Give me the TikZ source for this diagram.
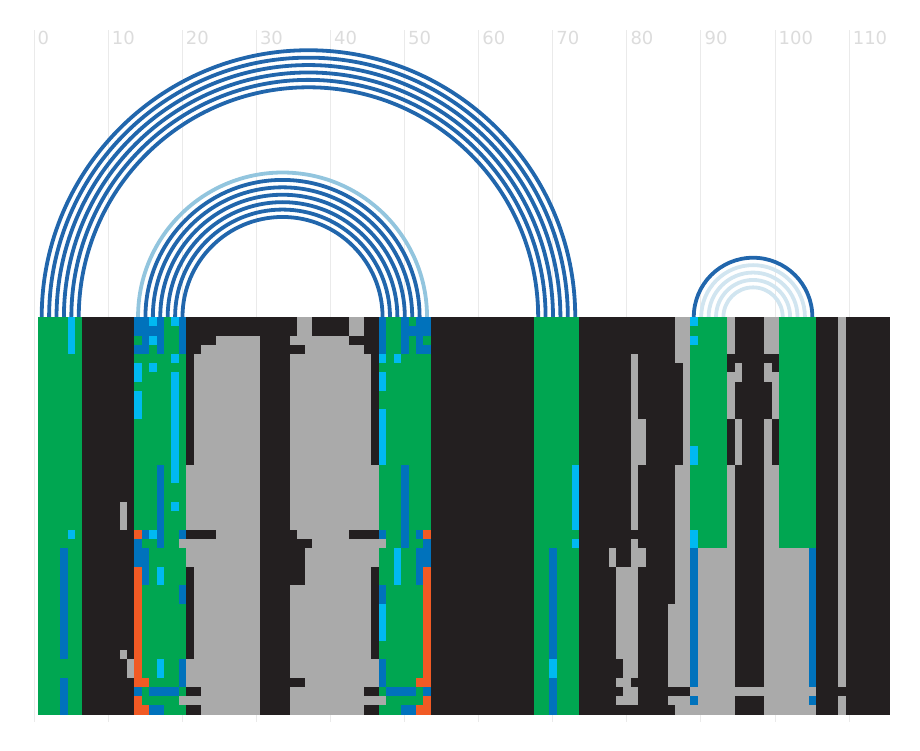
\documentclass[tikz,border=0pt]{standalone}
\usepackage{fontspec}
\setmainfont{DejaVu Sans}
\definecolor{stemgreen}{HTML}{00A651}
\definecolor{ntdark}{HTML}{231F20}
\definecolor{gapgray}{HTML}{AAAAAA}
\definecolor{varlight}{HTML}{00B9F1}
\definecolor{varblue}{HTML}{0072BC}
\definecolor{varorange}{HTML}{F15A24}
\definecolor{arcdark}{HTML}{2166AC}
\definecolor{arcmid}{HTML}{92C5DE}
\definecolor{arcpale}{HTML}{D1E5F0}
\definecolor{axisgray}{HTML}{DCDCDC}
\definecolor{rulegray}{HTML}{EAEAEA}
\newcommand\colw{7.41}
\newcommand\rowh{9.248}
\newcommand\gridx{38}
\newcommand\gridy{317}
\tikzset {
cG/.style={fill=stemgreen},
cK/.style={fill=ntdark},
cA/.style={fill=gapgray},
cL/.style={fill=varlight},
cB/.style={fill=varblue},
cO/.style={fill=varorange},
gridrule/.style={draw=rulegray,line width=1pt},
axislabel/.style={text=axisgray,font=\fontsize{18}{18}\selectfont,anchor=base west,inner sep=0pt},
basepair/.style={draw=arcdark,line width=3.8pt},
basepairmid/.style={draw=arcmid,line width=3.8pt},
basepairpale/.style={draw=arcpale,line width=3.8pt}
}
\begin{document}
\begin{tikzpicture}
[x=1pt,y=-1pt]
\useasboundingbox (0,0) rectangle (920,750);
\foreach \k in {0,...,11} {
  \pgfmathtruncatemacro\lab{10*\k}
  \coordinate (rtop\k) at ({34+74.1*\k},30);
  \coordinate (rbot\k) at ({34+74.1*\k},722);
  \draw[gridrule] (rtop\k) -- (rbot\k);
  \node[axislabel] (lab\k) at ({37.5+74.1*\k},44) {\lab};
}
\foreach \c in {0,...,114}
  \coordinate (col\c) at ({\gridx+(\c+0.5)*\colw},\gridy);

\foreach \a/\b/\s in {0/72/basepair,1/71/basepair,2/70/basepair,3/69/basepair,4/68/basepair,5/67/basepair,
  13/52/basepairmid,14/51/basepair,15/50/basepair,16/49/basepair,17/48/basepair,18/47/basepair,19/46/basepair,
  88/104/basepair,89/103/basepairpale,90/102/basepairpale,91/101/basepairpale,92/100/basepairpale}
  \draw[\s] (col\a) arc[start angle=180,end angle=360,radius={(\b-\a)*\colw/2}];

\foreach \ca/\cb/\ra/\rb/\st in {
  0/5/0/42/cG,6/12/0/42/cK,13/19/0/42/cG,20/45/0/42/cA,46/52/0/42/cG,53/66/0/42/cK,
  67/72/0/42/cG,73/87/0/42/cK,88/92/0/24/cG,88/92/25/42/cA,93/93/0/42/cA,94/97/0/42/cK,
  98/99/0/42/cA,100/104/0/24/cG,100/104/25/42/cA,105/107/0/42/cK,108/108/0/42/cA,109/114/0/42/cK,
  4/4/0/3/cL,4/4/23/23/cL,3/3/25/36/cB,3/3/39/42/cB,11/11/20/22/cA,11/11/36/36/cA,12/12/37/38/cA,
  13/14/0/1/cB,15/15/0/0/cL,16/16/0/3/cB,18/18/0/0/cL,19/19/0/3/cB,15/15/1/1/cB,14/14/2/2/cB,
  15/15/2/2/cL,13/14/3/3/cB,18/18/4/4/cL,13/13/5/6/cL,15/15/5/5/cL,18/18/6/17/cL,13/13/8/10/cL,
  16/16/16/24/cB,18/18/20/20/cL,13/13/23/23/cO,14/14/23/23/cB,15/15/23/23/cL,19/19/23/23/cB,
  13/13/24/24/cB,19/19/24/24/cA,13/14/25/26/cB,13/13/27/39/cO,14/14/27/28/cB,16/16/27/28/cL,
  19/19/29/30/cB,16/16/37/38/cL,19/19/37/39/cB,14/14/39/39/cO,13/13/40/40/cB,15/18/40/40/cB,
  13/13/41/41/cO,19/19/41/41/cA,13/14/42/42/cO,15/16/42/42/cB,
  20/34/0/1/cK,37/41/0/1/cK,44/45/0/1/cK,20/23/2/2/cK,42/45/2/2/cK,20/21/3/3/cK,30/35/3/3/cK,
  44/45/3/3/cK,20/20/4/15/cK,45/45/4/15/cK,30/33/0/42/cK,20/23/23/23/cK,34/34/23/23/cK,
  42/45/23/23/cK,34/36/24/24/cK,34/35/25/28/cK,20/20/27/36/cK,45/45/27/36/cK,34/35/39/39/cK,
  20/21/40/40/cK,44/45/40/40/cK,20/21/42/42/cK,44/45/42/42/cK,
  46/46/0/3/cB,49/49/0/3/cB,51/51/0/3/cB,52/52/0/1/cB,50/50/1/1/cB,52/52/3/3/cB,46/46/4/4/cL,
  48/48/4/4/cL,46/46/6/7/cL,46/46/10/15/cL,49/49/16/24/cB,46/46/23/23/cB,51/51/23/23/cB,
  52/52/23/23/cO,46/46/24/24/cA,52/52/24/24/cB,48/48/25/28/cL,51/52/25/26/cB,51/51/27/28/cB,
  52/52/27/39/cO,46/46/29/30/cB,46/46/31/34/cL,46/46/37/39/cB,51/51/39/39/cO,47/50/40/40/cB,
  52/52/40/40/cB,46/46/41/41/cA,52/52/41/41/cO,49/50/42/42/cB,51/52/42/42/cO,
  72/72/16/22/cL,72/72/24/24/cL,69/69/25/36/cB,69/69/37/38/cL,69/69/39/42/cB,
  80/80/4/22/cA,80/80/24/38/cA,80/80/40/41/cA,81/81/11/15/cA,77/77/25/26/cA,81/81/25/26/cA,
  78/79/27/36/cA,79/79/37/41/cA,78/78/39/39/cA,78/78/41/41/cA,85/85/31/39/cA,85/85/41/41/cA,
  86/87/0/4/cA,87/87/5/15/cA,86/87/16/39/cA,86/87/41/42/cA,
  88/88/0/0/cL,88/88/2/2/cL,88/88/14/15/cL,88/88/23/24/cL,88/88/25/39/cB,88/88/41/41/cB,
  93/93/4/5/cK,93/93/11/15/cK,94/94/5/6/cA,94/94/11/15/cA,94/97/40/40/cA,98/98/4/4/cK,
  98/98/7/10/cK,99/99/4/5/cK,99/99/11/15/cK,104/104/25/39/cB,104/104/41/41/cB,108/108/40/40/cK}
  \fill[\st] ({\gridx+\ca*\colw},{\gridy+\ra*\rowh}) rectangle ({\gridx+(\cb+1)*\colw},{\gridy+(\rb+1)*\rowh});
\end{tikzpicture}
\end{document}
